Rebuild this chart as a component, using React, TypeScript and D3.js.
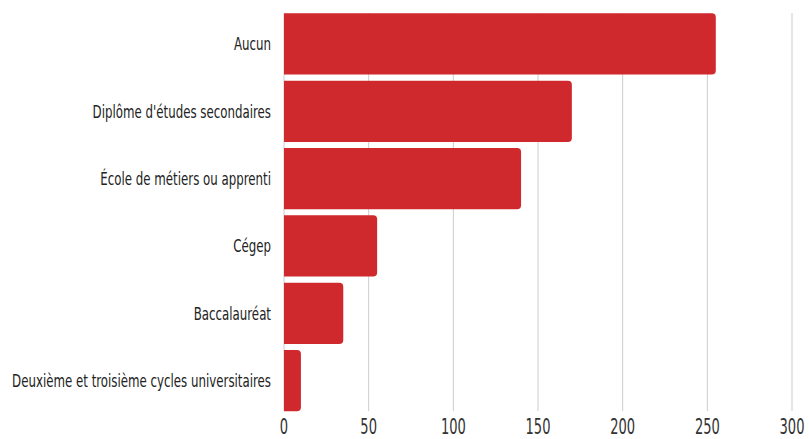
import React from "react";
import * as d3 from "d3";

const categories = [
  "Aucun",
  "Diplôme d'études secondaires",
  "École de métiers ou apprenti",
  "Cégep",
  "Baccalauréat",
  "Deuxième et troisième cycles universitaires",
];
const values = [255, 170, 140, 55, 35, 10];
const xTicks = [0, 50, 100, 150, 200, 250, 300];

const W = 809;
const H = 439;
const FONT = "'DejaVu Sans Condensed', 'DejaVu Sans', sans-serif";

function barPath(x0: number, y0: number, w: number, h: number, r: number) {
  const rr = Math.min(r, w / 2, h / 2);
  const p = d3.path();
  p.moveTo(x0, y0);
  p.lineTo(x0 + w - rr, y0);
  p.arcTo(x0 + w, y0, x0 + w, y0 + rr, rr);
  p.lineTo(x0 + w, y0 + h - rr);
  p.arcTo(x0 + w, y0 + h, x0 + w - rr, y0 + h, rr);
  p.lineTo(x0, y0 + h);
  p.closePath();
  return p.toString();
}

export default function App() {
  const x = d3.scaleLinear().domain([0, 300]).range([284, 792]);
  const y = d3
    .scaleBand<string>()
    .domain(categories)
    .range([10.3, 414.3])
    .paddingInner(0.09)
    .paddingOuter(0.045);

  return (
    <svg
      width={W}
      height={H}
      style={{ position: "absolute", left: 0, top: 0, background: "#fff" }}
    >
      {xTicks.map((t) => (
        <line
          key={"g" + t}
          x1={x(t)}
          x2={x(t)}
          y1={13}
          y2={411}
          stroke="#cccccc"
          strokeWidth={1}
        />
      ))}
      {categories.map((c, i) => (
        <path
          key={c}
          d={barPath(x(0), y(c)!, x(values[i]) - x(0), y.bandwidth(), 4)}
          fill="#cf292e"
        />
      ))}
      {categories.map((c) => (
        <text
          key={"l" + c}
          transform={`translate(271,${y(c)! + y.bandwidth() / 2 + 6.5}) scale(0.73,1)`}
          textAnchor="end"
          fontFamily={FONT}
          fontSize={18}
          fill="#222"
        >
          {c}
        </text>
      ))}
      {xTicks.map((t) => (
        <text
          key={"t" + t}
          transform={`translate(${x(t)},433.5) scale(0.66,1)`}
          textAnchor="middle"
          fontFamily={FONT}
          fontSize={22}
          fill="#333"
        >
          {t}
        </text>
      ))}
    </svg>
  );
}
